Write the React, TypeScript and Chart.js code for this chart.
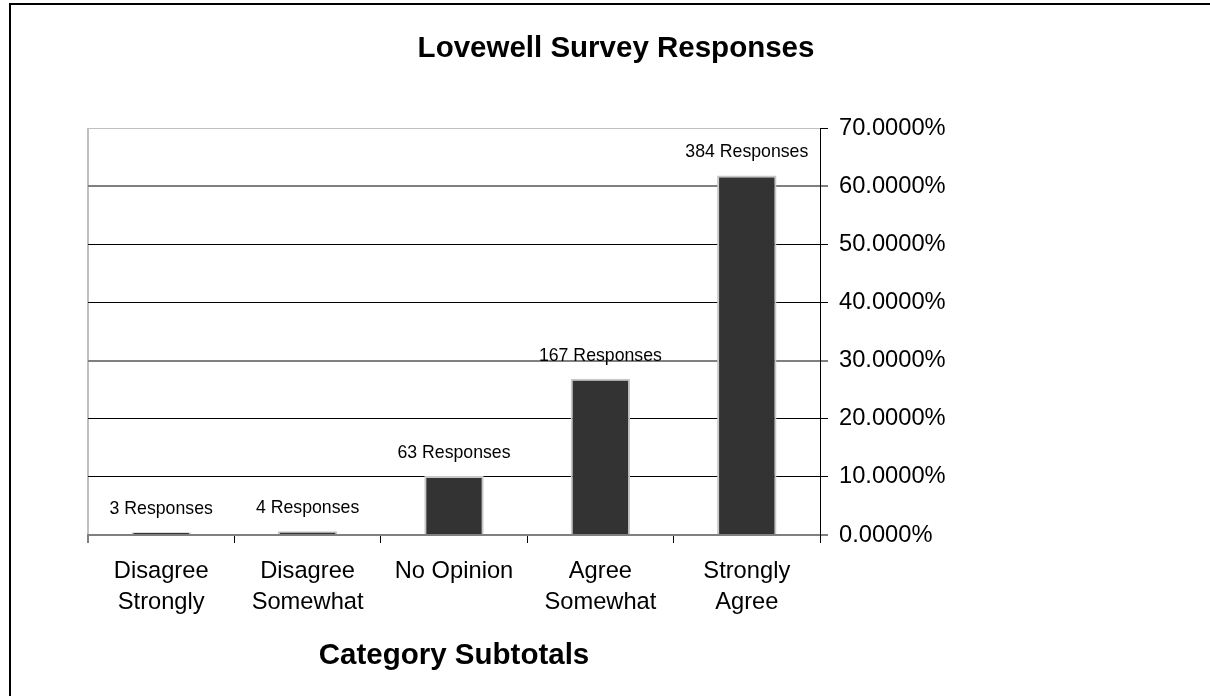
import { useEffect, useRef } from "react";
import { Chart, registerables } from "chart.js";

Chart.register(...registerables);

const chartTitle = "Lovewell Survey Responses";
const xAxisTitle = "Category Subtotals";
const categories: (string | string[])[] = [
  ["Disagree", "Strongly"],
  ["Disagree", "Somewhat"],
  "No Opinion",
  ["Agree", "Somewhat"],
  ["Strongly", "Agree"],
];
const responseCounts = [3, 4, 63, 167, 384];
const responsePercents = [0.48, 0.64, 10.14, 26.89, 61.84];
const labelSuffix = " Responses";
const yMin = 0;
const yMax = 70;
const yStep = 10;

const FONT = '"Liberation Sans", Arial, Helvetica, sans-serif';

export default function App() {
  const ref = useRef<HTMLCanvasElement>(null);

  useEffect(() => {
    const canvas = ref.current;
    if (!canvas) return;

    const frameAndTitles = {
      id: "frameAndTitles",
      beforeDraw(chart: any) {
        const ctx = chart.ctx;
        ctx.save();
        ctx.fillStyle = "#ffffff";
        ctx.fillRect(0, 0, chart.width, chart.height);
        ctx.restore();
      },
      afterDraw(chart: any) {
        const ctx = chart.ctx;
        const ca = chart.chartArea;
        ctx.save();
        ctx.strokeStyle = "#000";
        ctx.lineWidth = 2;
        ctx.beginPath();
        ctx.moveTo(10, chart.height + 10);
        ctx.lineTo(10, 4);
        ctx.lineTo(chart.width + 10, 4);
        ctx.stroke();
        ctx.fillStyle = "#000";
        ctx.textAlign = "center";
        ctx.textBaseline = "middle";
        ctx.font = `bold 29.5px ${FONT}`;
        ctx.fillText(chartTitle, 616, 49);
        ctx.fillText(xAxisTitle, (ca.left + ca.right) / 2, 656);
        ctx.restore();
      },
    };

    const barLabels = {
      id: "barLabels",
      afterDatasetsDraw(chart: any) {
        const ctx = chart.ctx;
        const meta = chart.getDatasetMeta(0);
        ctx.save();
        ctx.fillStyle = "#000";
        ctx.textAlign = "center";
        ctx.textBaseline = "middle";
        ctx.font = `17.7px ${FONT}`;
        meta.data.forEach((bar: any, i: number) => {
          ctx.fillText(`${responseCounts[i]}${labelSuffix}`, bar.x, bar.y - 23);
        });
        ctx.restore();
      },
    };

    const yGridColors = ["#808080", "#000000", "#000000", "#808080", "#000000", "#000000", "#808080", "#c0c0c0"];
    const yGridWidths = [2, 1, 1, 2, 1, 1, 2, 1];

    const chart = new Chart(canvas, {
      type: "bar",
      data: {
        labels: categories as any,
        datasets: [
          {
            data: responsePercents,
            backgroundColor: "#333333",
            borderColor: "#c8c8c8",
            borderWidth: 2,
            barPercentage: 0.406,
            categoryPercentage: 1,
          },
        ],
      },
      options: {
        responsive: false,
        devicePixelRatio: 1,
        animation: false,
        layout: { padding: { left: 88, top: 128, right: 0, bottom: 0 } },
        plugins: {
          legend: { display: false },
          tooltip: { enabled: false },
          title: { display: false },
        },
        scales: {
          x: {
            type: "category",
            offset: true,
            grid: {
              offset: true,
              drawOnChartArea: true,
              color: (c: any) => (c.index === 0 ? "#c0c0c0" : "rgba(0,0,0,0)"),
              lineWidth: (c: any) => (c.index === 0 ? 2 : 1),
              tickColor: "#000",
              tickWidth: 1,
              tickLength: 8,
            },
            border: { display: true, color: "#808080", width: 2 },
            ticks: {
              color: "#000",
              font: { family: FONT, size: 23.7, lineHeight: 1.31 },
              padding: 13,
              maxRotation: 0,
              autoSkip: false,
            },
            afterFit: (s: any) => {
              s.height = 161;
            },
          },
          y: {
            position: "right",
            min: yMin,
            max: yMax,
            grid: {
              color: (c: any) => yGridColors[c.index] ?? "#000",
              lineWidth: (c: any) => yGridWidths[c.index] ?? 1,
              tickColor: "#000",
              tickWidth: 1,
              tickLength: 8,
            },
            border: { display: true, color: "#000", width: 1 },
            ticks: {
              stepSize: yStep,
              color: "#000",
              font: { family: FONT, size: 23.7 },
              padding: 11,
              callback: (v: any) => `${Number(v).toFixed(4)}%`,
            },
            afterFit: (s: any) => {
              s.width = 390;
            },
          },
        },
      },
      plugins: [frameAndTitles, barLabels],
    });

    return () => chart.destroy();
  }, []);

  return (
    <div style={{ position: "fixed", left: 0, top: 0, width: 1210, height: 696, background: "#fff", overflow: "hidden" }}>
      <canvas ref={ref} width={1210} height={696} style={{ display: "block" }} />
    </div>
  );
}
